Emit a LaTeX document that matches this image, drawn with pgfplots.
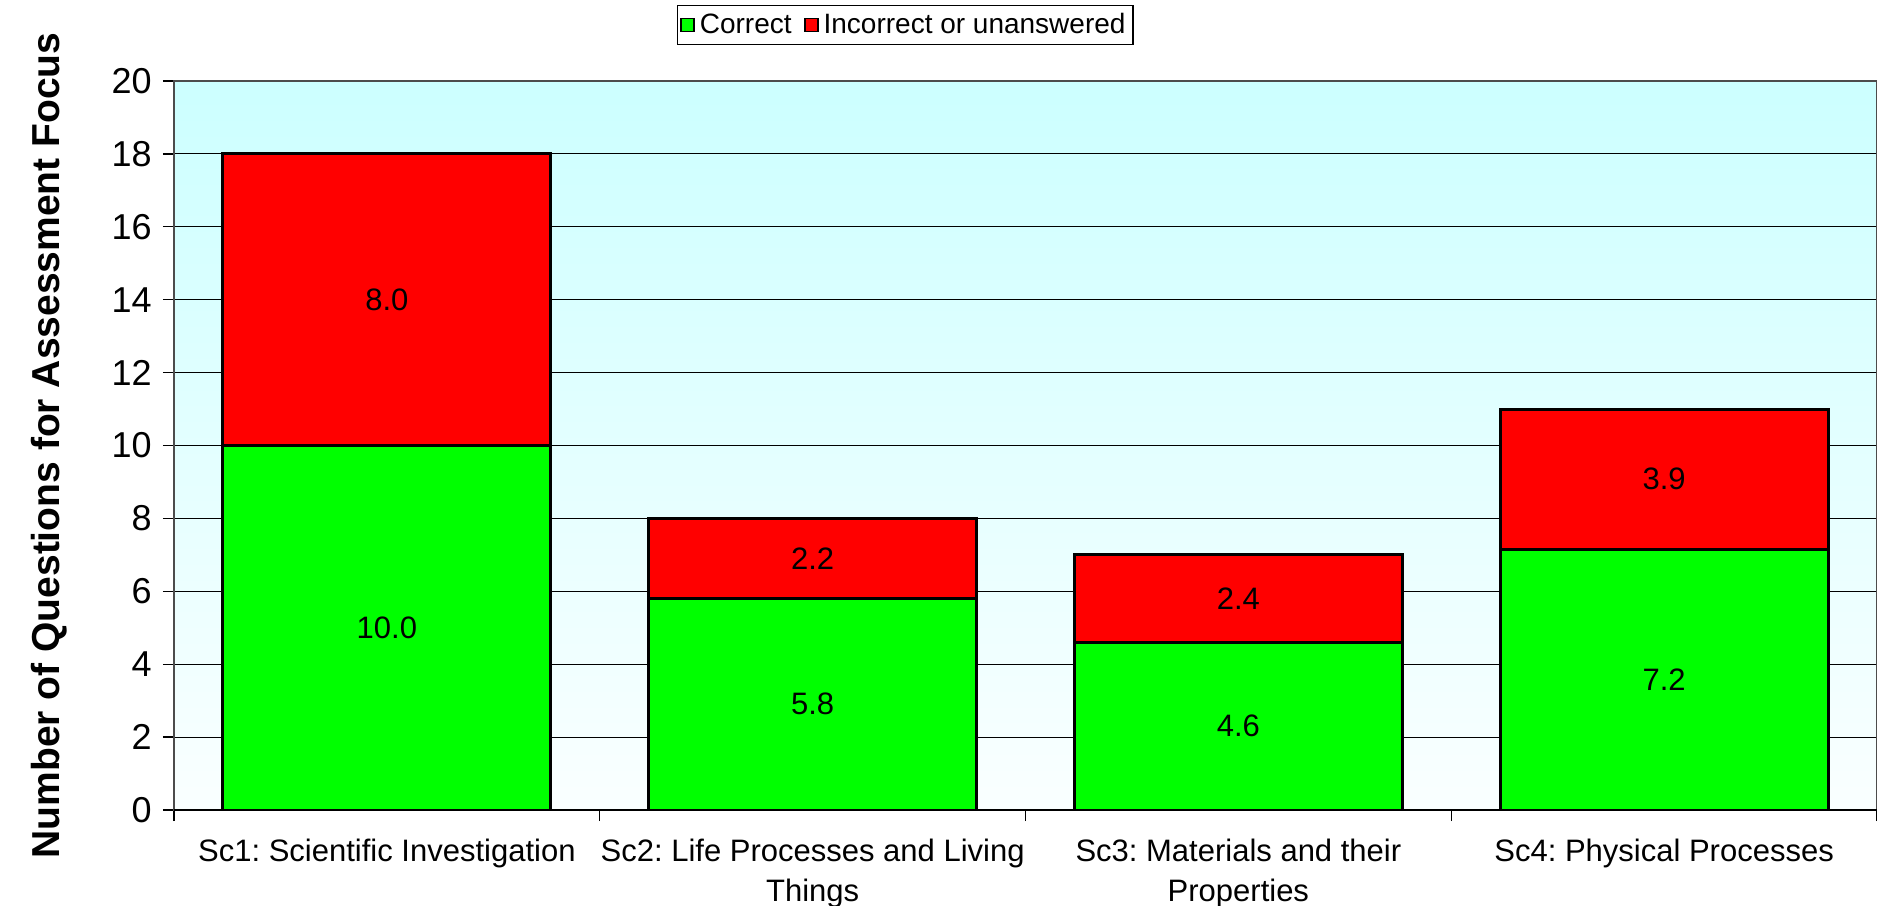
\documentclass[border=0pt]{standalone}
\usepackage{pgfplots}
\pgfplotsset{compat=1.18}
\usepackage{fontspec}
\setmainfont{Liberation Sans}
\definecolor{xlgreen}{RGB}{0,255,0}
\definecolor{xlred}{RGB}{255,0,0}
\definecolor{bgtop}{RGB}{204,255,255}
\definecolor{bgbot}{RGB}{250,255,255}
\begin{document}
\frenchspacing
\begin{tikzpicture}
\begin{axis}[
  at={(69.6pt,38pt)}, anchor=south west,
  scale only axis, width=681.2pt, height=291.6pt,
  xmin=-0.5, xmax=3.5, ymin=0, ymax=20,
  axis background/.style={top color=bgtop, bottom color=bgbot},
  axis line style={draw=gray!60!black, line width=0.9pt},
  ytick={0,2,...,20},
  ymajorgrids, grid style={black, line width=0.45pt},
  xtick={-0.5,0.5,1.5,2.5,3.5}, xticklabels={},
  extra x ticks={0,1,2,3},
  extra x tick labels={Sc1: Scientific Investigation,{Sc2: Life Processes and Living\\Things},{Sc3: Materials and their\\Properties},Sc4: Physical Processes},
  extra x tick style={major tick length=0pt, grid=none},
  xtick pos=bottom, ytick pos=left,
  tick align=outside, major tick length=4.4pt,
  tick style={black, line width=0.5pt},
  /pgf/number format/assume math mode=true,
  yticklabel style={font=\fontsize{14.4}{16}\selectfont, xshift=-1pt},
  xticklabel style={font=\fontsize{12.4}{16}\selectfont, align=center, yshift=-8pt},
  ylabel={Number of Questions for Assessment Focus},
  ylabel style={font=\bfseries\fontsize{15.6}{18}\selectfont, at={(axis description cs:-0.073,0.5)}, anchor=center},
  legend image code/.code={\draw[#1, line width=0.6pt] (0pt,-2.6pt) rectangle (5.2pt,2.6pt);},
  legend columns=-1,
  legend style={at={(axis description cs:0.4295,1.1043)}, anchor=north, draw=black, line width=0.5pt,
    font=\fontsize{11.2}{13}\selectfont, inner xsep=1pt, inner ysep=1pt,
    /tikz/every even column/.append style={column sep=3pt}},
  after end axis/.code={\draw[black, line width=0.6pt] (rel axis cs:0,0) -- (rel axis cs:1,0);},
]
\addlegendimage{fill=xlgreen, draw=black}
\addlegendentry{Correct}
\addlegendimage{fill=xlred, draw=black}
\addlegendentry{Incorrect or unanswered}
% totals (correct + incorrect): red segment sits on top of green
\addplot[ybar, bar width=131.2pt, bar shift=0pt, fill=xlred, draw=black, line width=1.2pt, forget plot]
  coordinates {(0,18) (1,8) (2,7) (3,11)};
% correct
\addplot[ybar, bar width=131.2pt, bar shift=0pt, fill=xlgreen, draw=black, line width=1.2pt, forget plot]
  coordinates {(0,10) (1,5.8) (2,4.6) (3,7.15)};
% value labels at segment centres
\addplot[draw=none, mark=none, forget plot, nodes near coords, point meta=explicit symbolic,
  nodes near coords align=center,
  every node near coord/.append style={font=\fontsize{12.4}{14}\selectfont, anchor=center, black}]
  coordinates {(0,5)[10.0] (0,14)[8.0] (1,2.9)[5.8] (1,6.9)[2.2] (2,2.3)[4.6] (2,5.8)[2.4] (3,3.575)[7.2] (3,9.075)[3.9]};
\end{axis}
\pgfresetboundingbox
\useasboundingbox (0,0) rectangle (750.8pt,362pt);
\end{tikzpicture}
\end{document}
